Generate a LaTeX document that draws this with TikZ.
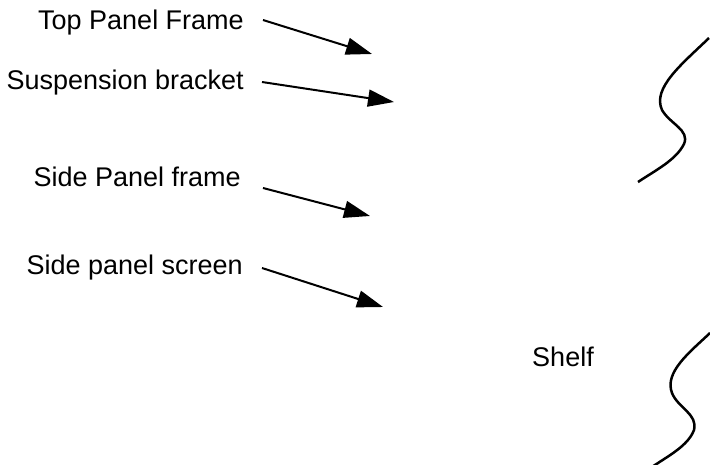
\documentclass[tikz,border=0pt]{standalone}
\usepackage{fontspec}
\setmainfont{Liberation Sans}
\usetikzlibrary{arrows.meta}

\begin{document}
\begin{tikzpicture}[x=1pt, y=-1pt,
    every node/.style={font=\fontsize{27}{32}\selectfont, inner sep=0pt},
    label/.style={anchor=east},
    pointer/.style={-{Triangle[length=26pt, width=17pt]}, line width=2pt},
    edge/.style={line width=2.5pt}]

    \useasboundingbox (0,0) rectangle (710,465);

    % Top Panel Frame
    \node[label] (topframe) at (244,23) {Top Panel Frame};
    \coordinate (topframetip) at (372,54);
    \draw[pointer] ([shift={(19,-3)}]topframe.east) -- (topframetip);

    % Suspension bracket
    \node[label] (bracket) at (244,83) {Suspension bracket};
    \coordinate (brackettip) at (394,102);
    \draw[pointer] ([shift={(18,-1)}]bracket.east) -- (brackettip);

    % Side Panel frame
    \node[label] (sideframe) at (241,177) {Side Panel frame};
    \coordinate (sideframetip) at (370,216);
    \draw[pointer] ([shift={(22,11)}]sideframe.east) -- (sideframetip);

    % Side panel screen
    \node[label] (screen) at (243,268) {Side panel screen};
    \coordinate (screentip) at (383,307);
    \draw[pointer] ([shift={(19,0)}]screen.east) -- (screentip);

    % Shelf
    \node (shelf) at (563,357) {Shelf};

    % break lines
    \draw[edge] (709,38) .. controls (682,64) and (652,88) .. (662,110)
        .. controls (670,124) and (690,130) .. (684,144)
        .. controls (676,160) and (656,170) .. (638,182);
    \draw[edge] (710,333) .. controls (690,352) and (664,372) .. (672,393)
        .. controls (678,408) and (698,414) .. (694,430)
        .. controls (688,446) and (668,456) .. (652,467);

\end{tikzpicture}
\end{document}
